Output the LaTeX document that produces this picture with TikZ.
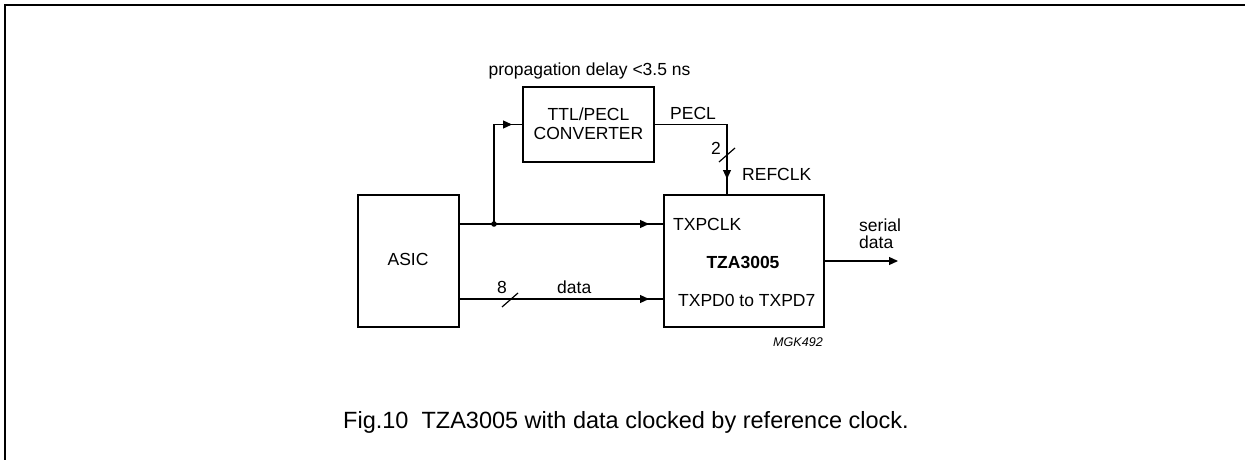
\documentclass[tikz,border=0pt]{standalone}
\usepackage{fontspec}
\setmainfont{Liberation Sans}
\usetikzlibrary{arrows.meta,decorations.markings,calc}
\begin{document}
\begin{tikzpicture}[x=1pt,y=-1pt,
  blk/.style={draw,line width=2pt,minimum width=#1,inner sep=0pt},
  lbl/.style={inner sep=0pt,font=\fontsize{17.5}{20}\selectfont},
  wire/.style={line width=1.2pt},
  tip/.style={-{Triangle[length=9pt,width=8pt]}},
  midarrow/.style={postaction={decorate},decoration={markings,
     mark=at position #1 with {\arrow{Triangle[length=9pt,width=8pt]}}}}
]
\useasboundingbox (0,0) rectangle (1245,460);
% frame
\draw[line width=2pt] (5,460) -- (5,5) -- (1245,5);
% blocks
\node[blk=131pt,minimum height=75pt] (conv) at (588.5,124.5) {};
\node[blk=101pt,minimum height=132pt] (asic) at (408.5,261) {};
\node[blk=160pt,minimum height=132pt] (tza) at (744,261) {};
% block texts
\node[lbl,anchor=base] (t1) at (588.5,120) {TTL/PECL};
\node[lbl,anchor=base] (t2) at (588.5,139) {CONVERTER};
\node[lbl,anchor=base] (ta) at (408,265) {ASIC};
\node[lbl,anchor=base west] (txpclk) at (673,230) {TXPCLK};
\node[lbl,anchor=base,font=\fontsize{17.5}{20}\selectfont\bfseries] (tzn) at (743,268) {TZA3005};
\node[lbl,anchor=base west] (txpd) at (678,306) {TXPD0 to TXPD7};
% coordinates
\coordinate (j) at (494,224);
\coordinate (dl) at (480,299);
\coordinate (rc) at (727,124.5);
\coordinate (sd) at (898,261);
% wires
\draw[wire,midarrow=-14pt] (asic.east |- j) -- (tza.west |- j);
\draw[wire,midarrow=-10pt] (j) |- (conv.west);
\fill (j) circle (2.8pt);
\draw[wire,midarrow=-14pt] (dl -| asic.east) -- (dl -| tza.west);
\draw[wire,midarrow=-15pt] (conv.east) -- (rc) -- (rc |- tza.north);
\draw[wire,tip] (tza.east) -- (sd);
% bus slashes
\coordinate (s8) at (510,300);
\draw[wire] ($(s8)+(-8,7)$) -- ($(s8)+(8,-7)$);
\coordinate (s2) at (727,155);
\draw[wire] ($(s2)+(-8,7)$) -- ($(s2)+(8,-7)$);
% labels
\node[lbl,anchor=base] (pd) at (589.5,75) {propagation delay <3.5 ns};
\node[lbl,anchor=base west] (pecl) at (670,119) {PECL};
\node[lbl,anchor=base] (n2) at (716,154) {2};
\node[lbl,anchor=base west] (refclk) at (742,180) {REFCLK};
\node[lbl,anchor=base] (n8) at (502,293) {8};
\node[lbl,anchor=base west] (data) at (557,293) {data};
\node[lbl,anchor=base west] (ser1) at (859,231) {serial};
\node[lbl,anchor=base west] (ser2) at (859,248) {data};
\node[inner sep=0pt,anchor=base east,font=\fontsize{12.6}{14}\selectfont\itshape] (mgk) at (823,346) {MGK492};
\node[inner sep=0pt,anchor=base west,font=\fontsize{23.5}{26}\selectfont] (cap) at (343,428) {Fig.10\ \ TZA3005 with data clocked by reference clock.};
\end{tikzpicture}
\end{document}
